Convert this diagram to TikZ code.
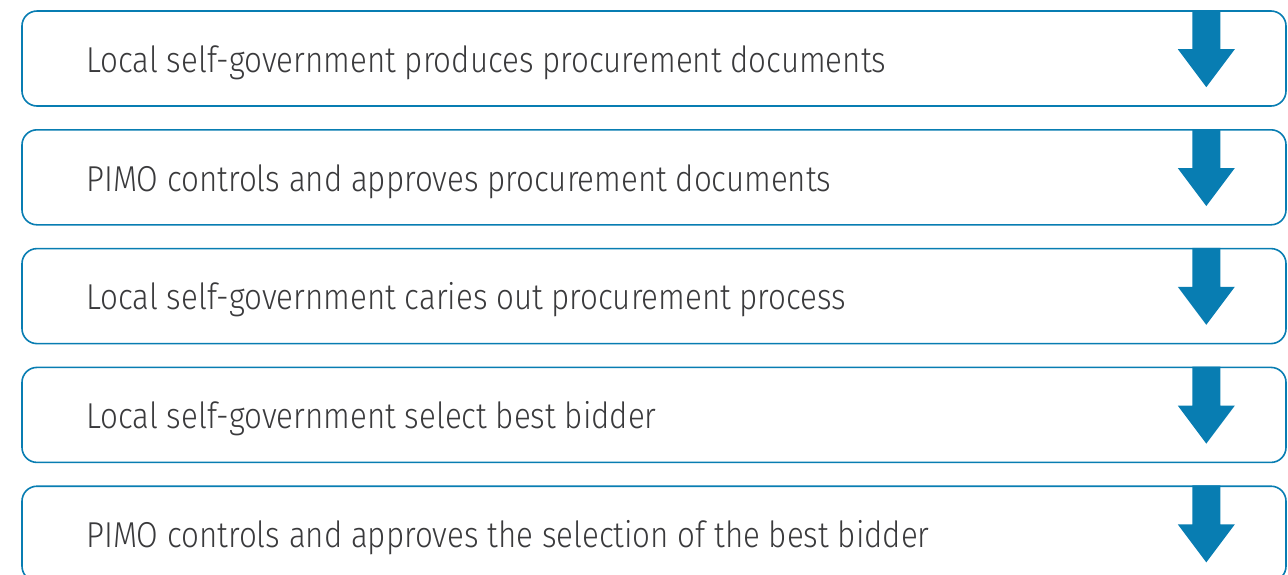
\documentclass[tikz,border=0pt]{standalone}
\usepackage{fontspec}
\setmainfont{Fira Sans Light}[FakeStretch=0.87]
\usepackage{tikz}
\usetikzlibrary{positioning}
\usepackage{xcolor}
\definecolor{pimoblue}{RGB}{8,125,178}
\definecolor{pimotext}{RGB}{58,58,60}
\tikzstyle{stepbox} = [rectangle, rounded corners=15pt, minimum width=1264pt, minimum height=95pt, draw=pimoblue, line width=1.6pt, fill=white, inner sep=0pt]
\tikzstyle{steptext} = [anchor=base west, inner sep=0pt, text=pimotext, font=\fontsize{36}{40}\selectfont]
\tikzstyle{downarrow} = [fill=pimoblue]

\begin{document}
\begin{tikzpicture}[x=1pt, y=1pt, node distance=22.2pt]
\useasboundingbox (0,0) rectangle (1288,-574);
\clip (0,0) rectangle (1288,-574);
% Steps
\node (step1) [stepbox] at (654,-58.5) {};
\node (step2) [stepbox, below=of step1] {};
\node (step3) [stepbox, below=of step2] {};
\node (step4) [stepbox, below=of step3] {};
\node (step5) [stepbox, below=of step4] {};

% Texts
\node (text1) [steptext] at ([xshift=65pt, yshift=-62pt]step1.north west) {Local self-government produces procurement documents};
\node (text2) [steptext] at ([xshift=65pt, yshift=-62pt]step2.north west) {PIMO controls and approves procurement documents};
\node (text3) [steptext] at ([xshift=65pt, yshift=-62pt]step3.north west) {Local self-government caries out procurement process};
\node (text4) [steptext] at ([xshift=65pt, yshift=-62pt]step4.north west) {Local self-government select best bidder};
\node (text5) [steptext] at ([xshift=65pt, yshift=-62pt]step5.north west) {PIMO controls and approves the selection of the best bidder};

% Arrows
\foreach \s in {step1,step2,step3,step4,step5} {
  \fill[downarrow] ([xshift=-94.5pt]\s.north east) -- ++(28,0) -- ++(0,-39)
    -- ++(14.5,0) -- ++(-28.5,-38) -- ++(-28.5,38) -- ++(14.5,0) -- cycle;
}
\end{tikzpicture}
\end{document}
